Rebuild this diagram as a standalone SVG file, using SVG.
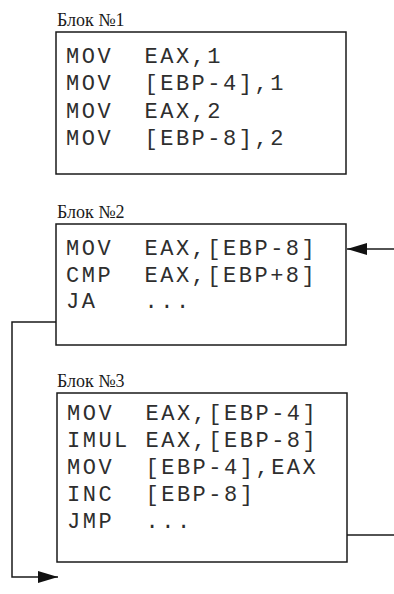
<svg xmlns="http://www.w3.org/2000/svg" width="394" height="594" viewBox="0 0 394 594">
  <defs>
    <style>
      .box { fill: #ffffff; stroke: #1a1a1a; stroke-width: 1.5; }
      .label { font-family: "Liberation Serif", "Times New Roman", serif; font-size: 18px; fill: #1a1a1a; }
      .code { font-family: "Liberation Mono", "Courier New", monospace; font-size: 22px; letter-spacing: 2.5px; fill: #2e2e2e; white-space: pre; }
      .wire { fill: none; stroke: #1a1a1a; stroke-width: 1.5; }
    </style>
    <marker id="arrow" viewBox="0 0 20 14" refX="20" refY="7" markerWidth="20" markerHeight="14" markerUnits="userSpaceOnUse" orient="auto">
      <path d="M0,1 L20,7 L0,13 Z" fill="#111111"/>
    </marker>
  </defs>
  <rect width="394" height="594" fill="#ffffff"/>

  <!-- Block 1: variable initialisation -->
  <g id="block1">
    <text class="label" x="57" y="26">Блок №1</text>
    <rect class="box" x="56" y="32" width="290" height="142"/>
    <text class="code" x="66" y="63" xml:space="preserve">MOV  EAX,1</text>
    <text class="code" x="66" y="90" xml:space="preserve">MOV  [EBP-4],1</text>
    <text class="code" x="66" y="118" xml:space="preserve">MOV  EAX,2</text>
    <text class="code" x="66" y="145" xml:space="preserve">MOV  [EBP-8],2</text>
  </g>

  <!-- Block 2: loop condition -->
  <g id="block2">
    <text class="label" x="57" y="218">Блок №2</text>
    <rect class="box" x="56" y="224" width="290" height="121"/>
    <text class="code" x="66" y="255" xml:space="preserve">MOV  EAX,[EBP-8]</text>
    <text class="code" x="66" y="282" xml:space="preserve">CMP  EAX,[EBP+8]</text>
    <text class="code" x="66" y="308" xml:space="preserve">JA   ...</text>
  </g>

  <!-- Block 3: loop body -->
  <g id="block3">
    <text class="label" x="57" y="387">Блок №3</text>
    <rect class="box" x="57" y="393" width="290" height="169"/>
    <text class="code" x="67" y="420" xml:space="preserve">MOV  EAX,[EBP-4]</text>
    <text class="code" x="67" y="447" xml:space="preserve">IMUL EAX,[EBP-8]</text>
    <text class="code" x="67" y="474" xml:space="preserve">MOV  [EBP-4],EAX</text>
    <text class="code" x="67" y="501" xml:space="preserve">INC  [EBP-8]</text>
    <text class="code" x="67" y="528" xml:space="preserve">JMP  ...</text>
  </g>

  <!-- Connectors -->
  <g id="connectors">
    <!-- JA: exit the loop -->
    <path class="wire" d="M56,322 H12 V577 H58" marker-end="url(#arrow)"/>
    <!-- JMP: back to the condition -->
    <path class="wire" d="M347,535 H394"/>
    <path class="wire" d="M394,249 H347" marker-end="url(#arrow)"/>
  </g>
</svg>
